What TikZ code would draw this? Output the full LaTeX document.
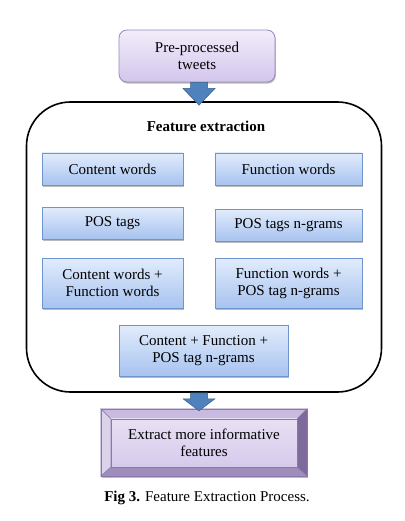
\documentclass[tikz,border=0pt]{standalone}
\usepackage{fontspec}
\setmainfont{Liberation Serif}
\usetikzlibrary{calc,shadows}
\definecolor{lavtop}{HTML}{F2EDFA}
\definecolor{lavbot}{HTML}{D3C6EC}
\definecolor{lavborder}{HTML}{9A88BE}
\definecolor{bluetop}{HTML}{E2ECFC}
\definecolor{bluebot}{HTML}{A7C3EF}
\definecolor{blueborder}{HTML}{6F95CF}
\definecolor{arrowblue}{HTML}{4F81BD}
\definecolor{arrowborder}{HTML}{385D8A}
\definecolor{bvtop}{HTML}{C9BADF}
\definecolor{bvleft}{HTML}{DCD2EA}
\definecolor{bvright}{HTML}{7E6B9C}
\definecolor{bvbottom}{HTML}{9F8DBC}
\definecolor{bvfacetop}{HTML}{E8E0F4}
\definecolor{bvfacebot}{HTML}{D6CAEC}
\definecolor{bvborder}{HTML}{8A78AC}
\begin{document}
\begin{tikzpicture}[x=1pt,y=-1pt,
  font=\fontsize{15}{17}\selectfont,
  boxshadow/.style={drop shadow={shadow xshift=0.8pt,shadow yshift=-1.6pt,opacity=0.45,fill=black!60}},
  topbox/.style={rectangle,rounded corners=8pt,draw=lavborder,line width=0.8pt,
    top color=lavtop,bottom color=lavbot,minimum width=156pt,minimum height=52pt,
    align=center,inner sep=0pt,boxshadow},
  featbox/.style={rectangle,draw=blueborder,line width=0.6pt,top color=bluetop,
    bottom color=bluebot,align=center,inner sep=0pt,boxshadow},
  fatarrow/.style={fill=arrowblue,draw=arrowborder,line width=0.5pt},
  bevelface/.style={draw=bvborder,line width=0.4pt}]
\useasboundingbox (0,0) rectangle (404,521);
\fill[white] (0,0) rectangle (404,521);

\node[topbox] (top) at (197,56) {Pre-processed\\tweets};

\node[draw,line width=1.6pt,rounded corners=44pt,minimum width=355pt,minimum height=290pt] (frame) at (204,247) {};
\node[font=\fontsize{15}{17}\selectfont\bfseries] (title) at (206,126) {Feature extraction};

\node[featbox,minimum width=141pt,minimum height=32pt] (cw) at (112.5,169) {Content words};
\node[featbox,minimum width=147pt,minimum height=32pt] (fw) at (288.5,169) {Function words};
\node[featbox,minimum width=141pt,minimum height=32pt] (pos) at (112.5,223) {POS tags};
\node[featbox,minimum width=147pt,minimum height=32pt] (posn) at (288.5,225) {POS tags n-grams};
\node[featbox,minimum width=141pt,minimum height=50pt] (cwfw) at (112.5,283) {Content words +\\Function words};
\node[featbox,minimum width=147pt,minimum height=50pt] (fwpos) at (288.5,283) {Function words +\\POS tag n-grams};
\node[featbox,minimum width=169pt,minimum height=51pt] (all) at (203.5,350.5) {Content + Function +\\POS tag n-grams};

% bevel box
\node[rectangle,minimum width=206pt,minimum height=67pt,inner sep=0pt,
  drop shadow={shadow xshift=0.8pt,shadow yshift=-1.6pt,opacity=0.45,fill=black!60},fill=bvtop] (out) at (204,442.5) {};
\coordinate (inw) at ($(out.north west)+(10,10)$);
\coordinate (ine) at ($(out.north east)+(-10,10)$);
\coordinate (isw) at ($(out.south west)+(10,-9)$);
\coordinate (ise) at ($(out.south east)+(-10,-9)$);
\fill[bvtop,bevelface] (out.north west) -- (out.north east) -- (ine) -- (inw) -- cycle;
\fill[bvleft,bevelface] (out.north west) -- (inw) -- (isw) -- (out.south west) -- cycle;
\fill[bvright,bevelface] (out.north east) -- (out.south east) -- (ise) -- (ine) -- cycle;
\fill[bvbottom,bevelface] (out.south west) -- (isw) -- (ise) -- (out.south east) -- cycle;
\shade[top color=bvfacetop,bottom color=bvfacebot,draw=bvborder,line width=0.4pt] (inw) rectangle (ise);
\draw[bvborder,line width=0.6pt] (out.north west) rectangle (out.south east);
\node[align=center] (ext) at (out.center) {Extract more informative\\features};

% fat arrows
\draw[fatarrow] let \p1=(top.south), \p2=(frame.north) in
  (\x1+2pt-8.5pt,\y1) -- (\x1+2pt+8.5pt,\y1) -- (\x1+2pt+8.5pt,\y1-6pt) -- (\x1+2pt+16pt,\y1-6pt)
  -- (\x1+2pt,\y2-4pt) -- (\x1+2pt-16pt,\y1-6pt) -- (\x1+2pt-8.5pt,\y1-6pt) -- cycle;
\draw[fatarrow] let \p1=(frame.south), \p2=(out.north) in
  (\x1-5pt-8.5pt,\y1) -- (\x1-5pt+8.5pt,\y1) -- (\x1-5pt+8.5pt,\y1-6pt) -- (\x1-5pt+16pt,\y1-6pt)
  -- (\x1-5pt,\y2-2pt) -- (\x1-5pt-16pt,\y1-6pt) -- (\x1-5pt-8.5pt,\y1-6pt) -- cycle;

\node (cap) at (207,498) {\textbf{Fig 3.} Feature Extraction Process.};
\end{tikzpicture}
\end{document}
